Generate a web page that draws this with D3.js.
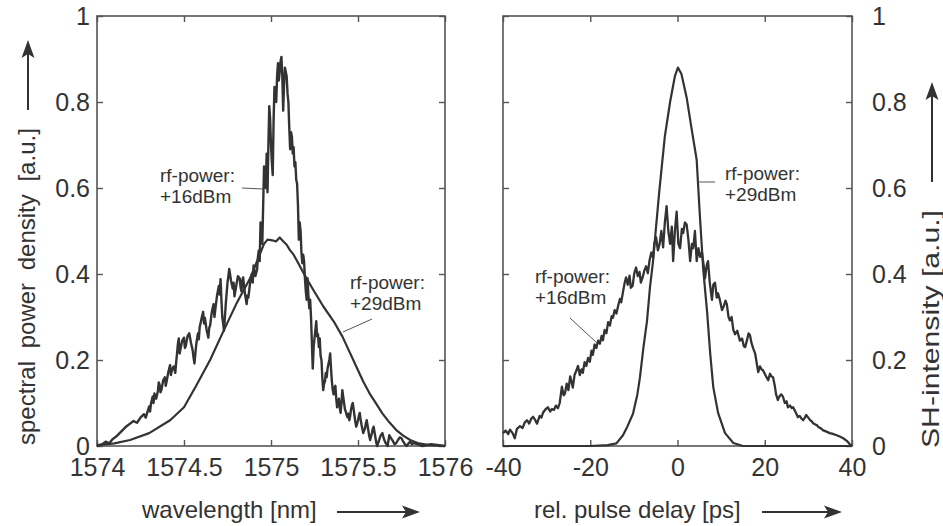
<!DOCTYPE html>
<html>
<head>
<meta charset="utf-8">
<script src="https://cdn.jsdelivr.net/npm/d3@7"></script>
<style>
  html, body { margin: 0; padding: 0; background: #fff; }
  svg { display: block; font-family: "Liberation Sans", Arial, sans-serif; }
  text { fill: #333; }
</style>
</head>
<body>
<svg id="chart" width="943" height="526"></svg>
<script>
// ---------------- data ----------------
const wlTicks = [1574, 1574.5, 1575, 1575.5, 1576];
const wlTickLabels = ["1574", "1574.5", "1575", "1575.5", "1576"];
const delayTicks = [-40, -20, 0, 20, 40];
const delayTickLabels = ["-40", "-20", "0", "20", "40"];
const yTicks = [0, 0.2, 0.4, 0.6, 0.8, 1];
const yTickLabels = ["0", "0.2", "0.4", "0.6", "0.8", "1"];

// spectrum at rf-power +16dBm  [wavelength nm, spectral power density]
const spectrum16 = [
[1574.00,0.000],[1574.03,0.004],[1574.05,0.010],[1574.07,0.006],[1574.09,0.016],[1574.11,0.022],
[1574.13,0.030],[1574.15,0.038],[1574.17,0.046],[1574.19,0.052],[1574.21,0.058],[1574.23,0.054],
[1574.25,0.066],[1574.27,0.074],[1574.28,0.066],[1574.30,0.092],[1574.305,0.080],[1574.31,0.098],
[1574.32,0.115],[1574.325,0.100],[1574.33,0.122],[1574.34,0.110],[1574.35,0.128],[1574.355,0.148],
[1574.36,0.142],[1574.365,0.125],[1574.37,0.130],[1574.38,0.152],[1574.39,0.160],[1574.395,0.140],
[1574.40,0.150],[1574.41,0.172],[1574.42,0.188],[1574.425,0.165],[1574.43,0.176],[1574.44,0.185],
[1574.45,0.170],[1574.455,0.195],[1574.46,0.215],[1574.465,0.238],[1574.47,0.250],[1574.475,0.215],
[1574.48,0.226],[1574.49,0.245],[1574.50,0.252],[1574.505,0.228],[1574.51,0.232],[1574.52,0.255],
[1574.53,0.262],[1574.54,0.240],[1574.55,0.222],[1574.555,0.205],[1574.56,0.192],[1574.57,0.235],
[1574.58,0.262],[1574.585,0.248],[1574.59,0.276],[1574.60,0.295],[1574.61,0.312],[1574.615,0.285],
[1574.62,0.298],[1574.63,0.270],[1574.64,0.252],[1574.645,0.275],[1574.65,0.280],[1574.66,0.312],
[1574.67,0.330],[1574.675,0.300],[1574.68,0.318],[1574.69,0.350],[1574.70,0.372],[1574.705,0.352],
[1574.71,0.388],[1574.715,0.340],[1574.72,0.300],[1574.725,0.285],[1574.73,0.268],[1574.74,0.330],
[1574.75,0.380],[1574.755,0.395],[1574.76,0.412],[1574.77,0.385],[1574.78,0.366],[1574.785,0.380],
[1574.79,0.348],[1574.80,0.372],[1574.81,0.395],[1574.82,0.390],[1574.825,0.370],[1574.83,0.360],
[1574.835,0.385],[1574.84,0.392],[1574.85,0.355],[1574.86,0.330],[1574.865,0.350],[1574.87,0.345],
[1574.88,0.380],[1574.89,0.400],[1574.895,0.380],[1574.90,0.420],[1574.91,0.395],[1574.92,0.410],
[1574.925,0.440],[1574.93,0.455],[1574.935,0.430],[1574.94,0.520],[1574.945,0.500],[1574.95,0.470],
[1574.955,0.560],[1574.96,0.650],[1574.965,0.630],[1574.97,0.600],[1574.975,0.680],[1574.98,0.590],
[1574.985,0.700],[1574.99,0.790],[1574.995,0.760],[1575.00,0.700],[1575.005,0.660],[1575.01,0.630],
[1575.015,0.760],[1575.02,0.835],[1575.025,0.820],[1575.03,0.800],[1575.035,0.860],[1575.04,0.890],
[1575.045,0.850],[1575.05,0.870],[1575.055,0.895],[1575.06,0.905],[1575.065,0.860],[1575.07,0.780],
[1575.075,0.840],[1575.08,0.880],[1575.085,0.870],[1575.09,0.860],[1575.095,0.820],[1575.10,0.800],
[1575.105,0.740],[1575.11,0.690],[1575.115,0.730],[1575.12,0.720],[1575.125,0.680],[1575.13,0.695],
[1575.135,0.650],[1575.14,0.660],[1575.145,0.620],[1575.15,0.610],[1575.155,0.560],[1575.16,0.480],
[1575.165,0.520],[1575.17,0.500],[1575.175,0.450],[1575.18,0.425],[1575.185,0.445],[1575.19,0.430],
[1575.195,0.390],[1575.20,0.360],[1575.205,0.340],[1575.21,0.390],[1575.215,0.350],[1575.22,0.320],
[1575.225,0.340],[1575.23,0.300],[1575.235,0.240],[1575.24,0.180],[1575.245,0.230],[1575.25,0.250],
[1575.255,0.270],[1575.26,0.290],[1575.265,0.255],[1575.27,0.260],[1575.275,0.230],[1575.28,0.250],
[1575.285,0.210],[1575.29,0.200],[1575.295,0.160],[1575.30,0.130],[1575.305,0.145],[1575.31,0.150],
[1575.315,0.170],[1575.32,0.160],[1575.325,0.180],[1575.33,0.190],[1575.335,0.200],[1575.34,0.215],
[1575.345,0.180],[1575.35,0.150],[1575.355,0.130],[1575.36,0.120],[1575.365,0.135],[1575.37,0.140],
[1575.375,0.110],[1575.38,0.090],[1575.385,0.100],[1575.39,0.110],[1575.395,0.090],[1575.40,0.077],
[1575.405,0.100],[1575.41,0.130],[1575.415,0.115],[1575.42,0.100],[1575.425,0.085],[1575.43,0.080],
[1575.435,0.072],[1575.44,0.067],[1575.445,0.075],[1575.45,0.060],[1575.455,0.070],[1575.46,0.085],
[1575.465,0.095],[1575.47,0.100],[1575.475,0.085],[1575.48,0.070],[1575.485,0.055],[1575.49,0.045],
[1575.495,0.052],[1575.50,0.060],[1575.505,0.070],[1575.51,0.077],[1575.515,0.062],[1575.52,0.050],
[1575.525,0.040],[1575.53,0.030],[1575.535,0.036],[1575.54,0.040],[1575.545,0.052],[1575.55,0.060],
[1575.555,0.048],[1575.56,0.035],[1575.565,0.022],[1575.57,0.014],[1575.575,0.022],[1575.58,0.030],
[1575.585,0.040],[1575.59,0.045],[1575.595,0.032],[1575.60,0.020],[1575.605,0.008],[1575.61,0.000],
[1575.62,0.012],[1575.63,0.024],[1575.64,0.030],[1575.65,0.015],[1575.66,0.006],[1575.67,0.000],
[1575.68,0.025],[1575.69,0.018],[1575.70,0.012],[1575.71,0.004],[1575.72,0.007],[1575.73,0.014],
[1575.74,0.020],[1575.75,0.018],[1575.76,0.010],[1575.77,0.004],[1575.78,0.000],[1575.79,0.006],
[1575.80,0.010],[1575.81,0.004],[1575.82,0.007],[1575.85,0.003],[1575.87,0.000],[1575.92,0.004],
[1576.00,0.000]
];

// spectrum at rf-power +29dBm
const spectrum29 = [
[1574.00,0.002],[1574.10,0.006],[1574.19,0.014],[1574.30,0.030],[1574.42,0.060],[1574.50,0.090],
[1574.57,0.140],[1574.65,0.200],[1574.73,0.270],[1574.80,0.330],[1574.88,0.390],[1574.93,0.440],
[1574.96,0.470],[1574.98,0.480],[1575.01,0.478],[1575.03,0.476],[1575.05,0.485],[1575.07,0.476],
[1575.09,0.468],[1575.11,0.455],[1575.13,0.445],[1575.15,0.430],[1575.19,0.400],[1575.24,0.365],
[1575.30,0.325],[1575.36,0.290],[1575.41,0.255],[1575.45,0.220],[1575.49,0.185],[1575.53,0.150],
[1575.57,0.120],[1575.61,0.095],[1575.64,0.076],[1575.68,0.055],[1575.72,0.037],[1575.76,0.024],
[1575.80,0.014],[1575.85,0.006],[1575.91,0.002],[1576.00,0.000]
];

// SH autocorrelation at rf-power +16dBm  [delay ps, SH intensity]
const shg16 = [
[-40.0,0.030],[-39.4,0.036],[-38.8,0.028],[-38.4,0.038],[-37.8,0.030],[-37.3,0.018],[-36.8,0.040],
[-36.1,0.046],[-35.5,0.042],[-35.0,0.055],[-34.5,0.060],[-34.0,0.052],[-33.5,0.064],[-33.1,0.068],
[-32.6,0.060],[-32.2,0.052],[-31.6,0.070],[-31.2,0.066],[-30.8,0.078],[-30.2,0.086],[-29.7,0.090],
[-29.2,0.080],[-28.8,0.086],[-28.3,0.084],[-27.9,0.094],[-27.4,0.088],[-27.0,0.100],[-26.5,0.138],
[-26.1,0.118],[-25.8,0.122],[-25.4,0.145],[-25.0,0.130],[-24.6,0.162],[-24.3,0.150],[-24.0,0.136],
[-23.6,0.165],[-23.2,0.175],[-22.8,0.186],[-22.4,0.165],[-22.0,0.178],[-21.7,0.170],[-21.3,0.195],
[-20.9,0.186],[-20.5,0.205],[-20.1,0.196],[-19.7,0.222],[-19.4,0.212],[-19.0,0.236],[-18.6,0.228],
[-18.2,0.245],[-17.8,0.238],[-17.4,0.256],[-17.1,0.246],[-16.7,0.270],[-16.3,0.262],[-15.9,0.288],
[-15.5,0.280],[-15.1,0.302],[-14.8,0.298],[-14.4,0.316],[-14.0,0.308],[-13.6,0.326],[-13.2,0.342],
[-12.9,0.334],[-12.5,0.358],[-12.1,0.380],[-11.8,0.392],[-11.4,0.375],[-11.0,0.396],[-10.7,0.368],
[-10.3,0.372],[-9.9,0.402],[-9.5,0.415],[-9.1,0.395],[-8.7,0.405],[-8.4,0.380],[-8.0,0.392],
[-7.6,0.408],[-7.2,0.418],[-6.8,0.402],[-6.4,0.432],[-6.0,0.450],[-5.6,0.438],[-5.3,0.472],
[-4.9,0.485],[-4.5,0.455],[-4.1,0.470],[-3.7,0.500],[-3.3,0.462],[-2.9,0.520],[-2.5,0.558],
[-2.1,0.500],[-1.7,0.470],[-1.3,0.510],[-1.0,0.430],[-0.6,0.500],[-0.2,0.545],[0.2,0.470],
[0.6,0.460],[1.0,0.505],[1.3,0.495],[1.7,0.520],[2.1,0.515],[2.5,0.480],[2.9,0.430],[3.3,0.470],
[3.6,0.460],[4.0,0.500],[4.4,0.430],[4.8,0.460],[5.2,0.440],[5.6,0.450],[6.0,0.420],[6.3,0.390],
[6.7,0.420],[7.0,0.430],[7.4,0.380],[7.9,0.340],[8.2,0.375],[8.6,0.380],[9.0,0.345],[9.3,0.355],
[9.7,0.340],[10.2,0.316],[10.6,0.325],[11.0,0.338],[11.3,0.330],[11.7,0.300],[12.0,0.292],
[12.4,0.300],[12.8,0.270],[13.2,0.260],[13.7,0.268],[14.3,0.245],[14.8,0.250],[15.2,0.232],
[15.5,0.230],[15.9,0.245],[16.3,0.262],[16.6,0.258],[17.0,0.238],[17.4,0.226],[17.8,0.215],
[18.2,0.190],[18.5,0.172],[18.9,0.185],[19.3,0.178],[19.6,0.176],[20.0,0.168],[20.4,0.160],
[20.8,0.153],[21.2,0.168],[21.5,0.162],[21.9,0.160],[22.3,0.140],[22.6,0.120],[23.0,0.107],
[23.4,0.116],[23.8,0.120],[24.2,0.114],[24.6,0.100],[25.0,0.104],[25.3,0.090],[25.8,0.094],
[26.2,0.088],[26.5,0.090],[27.0,0.080],[27.3,0.074],[27.6,0.067],[28.0,0.070],[28.4,0.064],
[28.8,0.060],[29.2,0.066],[29.5,0.072],[29.9,0.067],[30.4,0.060],[30.7,0.058],[31.1,0.053],
[31.6,0.050],[32.0,0.048],[32.2,0.045],[32.7,0.042],[33.0,0.040],[33.3,0.037],[34.0,0.034],
[34.9,0.030],[35.6,0.028],[36.5,0.025],[37.2,0.022],[38.0,0.018],[38.8,0.012],[39.5,0.004],
[40.0,0.000]
];

// SH autocorrelation at rf-power +29dBm
const shg29 = [
[-40,0.000],[-20,0.000],[-16,0.002],[-14,0.006],[-12.5,0.025],[-11.5,0.045],[-10.2,0.075],
[-9.2,0.120],[-8.6,0.160],[-7.8,0.230],[-7.0,0.290],[-6.3,0.370],[-5.6,0.430],[-5.0,0.500],
[-4.2,0.590],[-3.5,0.660],[-2.9,0.720],[-1.7,0.800],[-0.6,0.860],[0.1,0.880],[0.9,0.865],
[2.1,0.810],[3.2,0.740],[4.4,0.665],[5.1,0.540],[5.9,0.410],[6.8,0.310],[7.5,0.215],[8.2,0.137],
[9.3,0.077],[10.9,0.030],[12.8,0.007],[15.0,0.000],[40,0.000]
];

// ---------------- drawing ----------------
const svg = d3.select("#chart");
const ink = "#333";
const frameInk = "#555";

const plotTop = 16, plotBottom = 446;
const y = d3.scaleLinear().domain([0, 1]).range([plotBottom, plotTop]);
const xL = d3.scaleLinear().domain([1574, 1576]).range([97, 445]);
const xR = d3.scaleLinear().domain([-40, 40]).range([503, 852]);

function fmt(ticks, labels) { return (d) => labels[ticks.indexOf(d)]; }

function styleAxis(g) {
  g.select(".domain").remove();
  g.selectAll(".tick line").attr("stroke", frameInk).attr("stroke-width", 1.4);
  g.selectAll(".tick text").attr("fill", ink).style("font-size", "25px")
    .style("font-family", "'Liberation Sans', Arial, sans-serif");
}

function panel(x, xTicks, xLabels, leftLabels) {
  const [x0, x1] = x.range();
  svg.append("rect").attr("x", x0).attr("y", plotTop)
    .attr("width", x1 - x0).attr("height", plotBottom - plotTop)
    .attr("fill", "none").attr("stroke", frameInk).attr("stroke-width", 1.6);
  svg.append("g").attr("transform", `translate(0,${plotBottom})`)
    .call(d3.axisBottom(x).tickValues(xTicks).tickSize(-6).tickPadding(12).tickFormat(fmt(xTicks, xLabels)))
    .call(styleAxis);
  svg.append("g").attr("transform", `translate(0,${plotTop})`)
    .call(d3.axisTop(x).tickValues(xTicks).tickSize(-6).tickFormat(""))
    .call(styleAxis);
  svg.append("g").attr("transform", `translate(${x0},0)`)
    .call(d3.axisLeft(y).tickValues(yTicks).tickSize(-6).tickPadding(7)
      .tickFormat(leftLabels ? fmt(yTicks, yTickLabels) : ""))
    .call(styleAxis);
  svg.append("g").attr("transform", `translate(${x1},0)`)
    .call(d3.axisRight(y).tickValues(yTicks).tickSize(-6).tickPadding(20)
      .tickFormat(leftLabels ? "" : fmt(yTicks, yTickLabels)))
    .call(styleAxis);
}

panel(xL, wlTicks, wlTickLabels, true);
panel(xR, delayTicks, delayTickLabels, false);

function curve(x, data, w) {
  svg.append("path").datum(data)
    .attr("fill", "none").attr("stroke", ink).attr("stroke-width", w)
    .attr("stroke-linejoin", "round")
    .attr("d", d3.line().x(d => x(d[0])).y(d => y(d[1])));
}
curve(xL, spectrum29, 2.2);
curve(xL, spectrum16, 2.4);
curve(xR, shg29, 2.2);
curve(xR, shg16, 2.3);

// annotations
function note(x0, yb, lines, leader) {
  const t = svg.append("text").attr("x", x0).attr("y", yb).style("font-size", "19px");
  lines.forEach((s, i) => t.append("tspan").attr("x", x0).attr("dy", i ? 21 : 0).text(s));
  svg.append("line").attr("x1", leader[0]).attr("y1", leader[1])
    .attr("x2", leader[2]).attr("y2", leader[3])
    .attr("stroke", "#555").attr("stroke-width", 1);
}
note(160, 182, ["rf-power:", "+16dBm"], [242, 188, 263, 189]);
note(350, 289, ["rf-power:", "+29dBm"], [343, 332, 372, 319]);
note(725, 180, ["rf-power:", "+29dBm"], [698, 182, 715, 182]);
note(535, 283, ["rf-power:", "+16dBm"], [570, 318, 597, 343]);

// axis titles
svg.append("text").attr("x", 142).attr("y", 518).style("font-size", "24px").text("wavelength [nm]");
svg.append("text").attr("x", 534).attr("y", 518).style("font-size", "24px").text("rel. pulse delay [ps]");
svg.append("text").attr("transform", "translate(35,445) rotate(-90)")
  .style("font-size", "24px").style("word-spacing", "6px")
  .text("spectral power density [a.u.]");
svg.append("text").attr("transform", "translate(939,448) rotate(-90)")
  .style("font-size", "24px").attr("textLength", 238).attr("lengthAdjust", "spacingAndGlyphs")
  .text("SH-intensity [a.u.]");

// arrows
function arrow(xa, ya, xb, yb) {
  const ang = Math.atan2(yb - ya, xb - xa);
  const L = 18, W = 6.5;
  const bx = xb - L * Math.cos(ang), by = yb - L * Math.sin(ang);
  svg.append("line").attr("x1", xa).attr("y1", ya).attr("x2", bx + 4 * Math.cos(ang)).attr("y2", by + 4 * Math.sin(ang))
    .attr("stroke", ink).attr("stroke-width", 2);
  const nx = -Math.sin(ang), ny = Math.cos(ang);
  const inner = 4;
  svg.append("path").attr("fill", ink)
    .attr("d", `M${xb},${yb} L${bx + W * nx},${by + W * ny} L${bx + inner * Math.cos(ang)},${by + inner * Math.sin(ang)} L${bx - W * nx},${by - W * ny} Z`);
}
arrow(28, 110, 28, 40);
arrow(932, 182, 932, 82);
arrow(337, 512, 420, 512);
arrow(762, 512, 842, 512);
</script>
</body>
</html>
